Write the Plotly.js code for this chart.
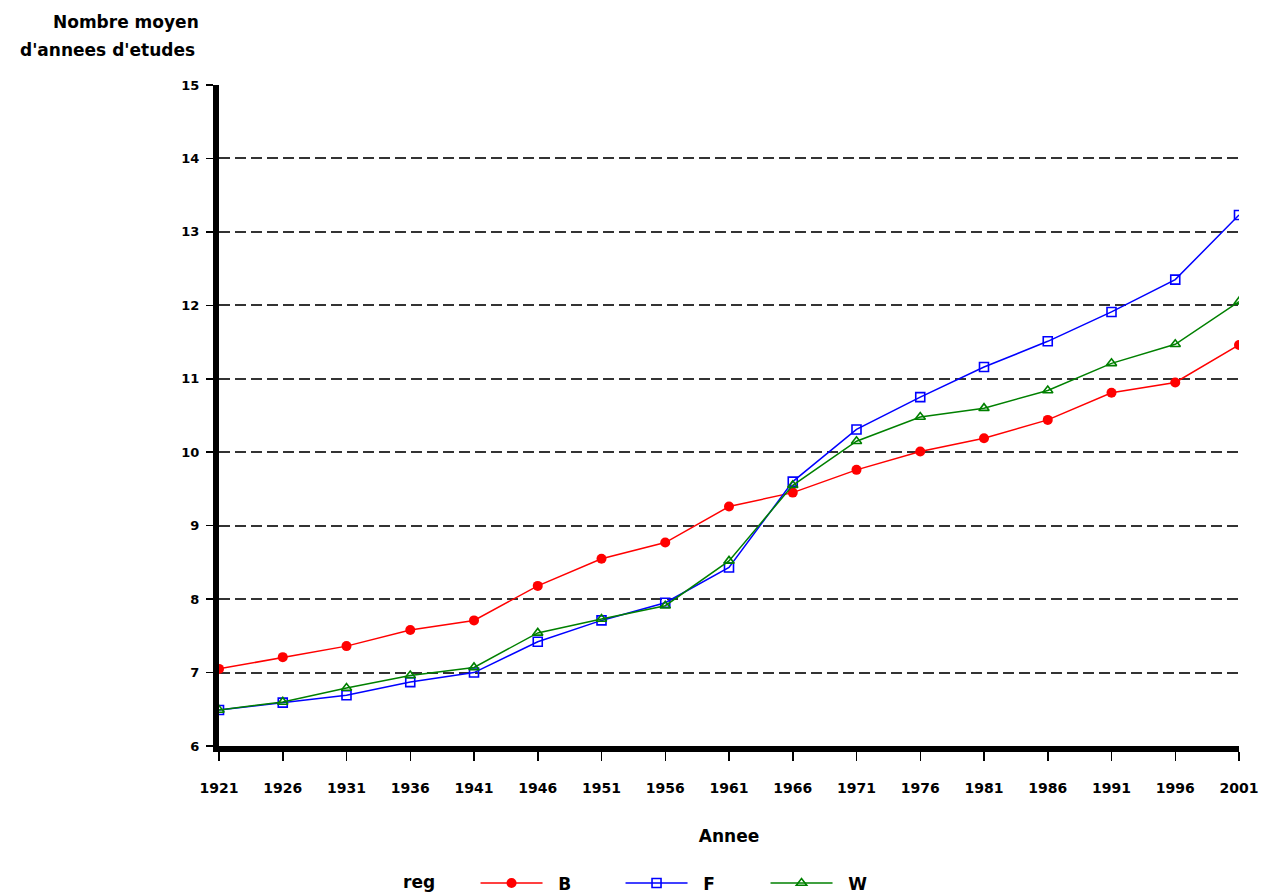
<!DOCTYPE html>
<html>
<head>
<meta charset="utf-8">
<script src="https://cdn.plot.ly/plotly-3.0.1.min.js"></script>
<style>
html,body{margin:0;padding:0;background:#fff;}
#chart{width:1261px;height:894px;}
</style>
</head>
<body>
<div id="chart"></div>
<script>
var years = [1921, 1926, 1931, 1936, 1941, 1946, 1951, 1956, 1961, 1966, 1971, 1976, 1981, 1986, 1991, 1996, 2001];
var seriesB = [7.05, 7.21, 7.36, 7.58, 7.71, 8.18, 8.55, 8.77, 9.26, 9.45, 9.76, 10.01, 10.19, 10.44, 10.81, 10.95, 11.46];
var seriesF = [6.49, 6.59, 6.69, 6.87, 7.00, 7.42, 7.71, 7.95, 8.43, 9.60, 10.31, 10.75, 11.16, 11.51, 11.91, 12.35, 13.23];
var seriesW = [6.49, 6.60, 6.79, 6.96, 7.07, 7.54, 7.73, 7.91, 8.52, 9.55, 10.15, 10.48, 10.60, 10.84, 11.21, 11.47, 12.05];
var seriesNames = ["B", "F", "W"];
var yTicks = [6, 7, 8, 9, 10, 11, 12, 13, 14, 15];
var yTitleLines = ["Nombre moyen", "d'annees d'etudes"];
var xTitle = "Annee";
var legendTitle = "reg";

var F = "DejaVu Sans, Arial, sans-serif";
var NB = "&nbsp;&nbsp;";

var traces = [
  {x: years, y: seriesB, name: NB + "<b>" + seriesNames[0] + "</b>", type: "scatter", mode: "lines+markers",
   line: {color: "#ff0000", width: 1.5},
   marker: {symbol: "circle", size: 10, color: "#ff0000"}},
  {x: years, y: seriesF, name: NB + "<b>" + seriesNames[1] + "</b>", type: "scatter", mode: "lines+markers",
   line: {color: "#0000ff", width: 1.5},
   marker: {symbol: "square-open", size: 9, color: "#0000ff", line: {width: 1.6, color: "#0000ff"}}},
  {x: years, y: seriesW, name: NB + "<b>" + seriesNames[2] + "</b>", type: "scatter", mode: "lines+markers",
   line: {color: "#008000", width: 1.5},
   marker: {symbol: "triangle-up-open", size: 9, color: "#008000", line: {width: 1.6, color: "#008000"}}}
];

var layout = {
  width: 1261, height: 894,
  margin: {l: 219, r: 22, t: 85, b: 148, autoexpand: false},
  paper_bgcolor: "#ffffff", plot_bgcolor: "#ffffff",
  font: {family: F, size: 14, color: "#000"},
  showlegend: true,
  legend: {
    orientation: "h", x: (401 - 219) / 1020, xanchor: "left", y: -0.208, yanchor: "middle",
    title: {text: "<b>" + legendTitle + "</b>&nbsp;&nbsp;&nbsp;&nbsp;&nbsp;&nbsp;", side: "left", font: {family: F, size: 17, color: "#000"}},
    font: {family: F, size: 17, color: "#000"},
    entrywidth: 68, entrywidthmode: "pixels", itemwidth: 62,
    bgcolor: "rgba(0,0,0,0)"
  },
  xaxis: {
    range: [1921, 2001], tickmode: "array", tickvals: years,
    ticktext: years.map(function(v){return "<b>" + v + "</b>";}),
    showgrid: false, zeroline: false,
    showline: true, linecolor: "#000", linewidth: 6,
    ticks: "outside", ticklen: 9, tickwidth: 1.5, tickcolor: "#000",
    ticklabelstandoff: 15,
    tickfont: {family: F, size: 14, color: "#000"},
    title: {text: "<b>" + xTitle + "</b>", font: {family: F, size: 17, color: "#000"}, standoff: 37},
    fixedrange: true
  },
  yaxis: {
    range: [6, 15], tickmode: "array", tickvals: yTicks,
    ticktext: yTicks.map(function(v){return "<b>" + v + "</b>";}),
    showgrid: true, gridcolor: "#333333", gridwidth: 2, griddash: "11px,5px",
    zeroline: false,
    showline: true, linecolor: "#000", linewidth: 6,
    ticks: "outside", ticklen: 7, tickwidth: 1.5, tickcolor: "#000",
    ticklabelstandoff: 4,
    tickfont: {family: F, size: 13, color: "#000"},
    fixedrange: true
  },
  annotations: [
    {xref: "paper", yref: "paper", x: (201 - 219) / 1020, y: (746.5 - 22) / 661.5,
     xanchor: "right", yanchor: "middle", showarrow: false,
     text: "<b>" + yTitleLines[0] + "</b>", font: {family: F, size: 17, color: "#000"}},
    {xref: "paper", yref: "paper", x: (197 - 219) / 1020, y: (746.5 - 50) / 661.5,
     xanchor: "right", yanchor: "middle", showarrow: false,
     text: "<b>" + yTitleLines[1] + "</b>", font: {family: F, size: 17, color: "#000"}}
  ]
};

Plotly.newPlot("chart", traces, layout, {displayModeBar: false, staticPlot: true});
</script>
</body>
</html>
